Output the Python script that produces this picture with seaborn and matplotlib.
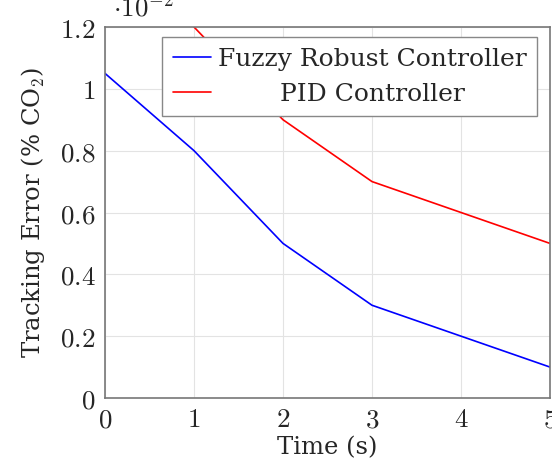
import pandas as pd
import seaborn as sns
import matplotlib.pyplot as plt
from matplotlib.ticker import FuncFormatter

# Values (y in units of 1e-2)
time_fuzzy = [0, 1, 2, 3, 4, 5]
err_fuzzy = [1.05, 0.80, 0.50, 0.30, 0.20, 0.10]
time_pid = [1, 2, 3, 4, 5]
err_pid = [1.20, 0.90, 0.70, 0.60, 0.50]
series_names = ["Fuzzy Robust Controller", "PID Controller"]

df = pd.concat([
    pd.DataFrame({"time": time_fuzzy, "err": err_fuzzy, "controller": series_names[0]}),
    pd.DataFrame({"time": time_pid, "err": err_pid, "controller": series_names[1]}),
], ignore_index=True)

sns.set_theme(style="whitegrid")
plt.rcParams["font.family"] = ["DejaVu Serif"]
plt.rcParams["mathtext.fontset"] = "cm"

fig = plt.figure(figsize=(5.52, 4.66), dpi=100)
ax = fig.add_axes([105 / 552, 68 / 466, 445 / 552, 371 / 466])

sns.lineplot(
    data=df, x="time", y="err", hue="controller",
    palette={series_names[0]: "#0000ff", series_names[1]: "#ff0000"},
    linewidth=1.2, ax=ax,
)

ax.set_xlim(0, 5)
ax.set_ylim(0, 1.2)
ax.set_xticks([0, 1, 2, 3, 4, 5])
ax.set_yticks([0, 0.2, 0.4, 0.6, 0.8, 1.0, 1.2])
fmt = FuncFormatter(lambda v, p: f"${v:g}$")
ax.xaxis.set_major_formatter(fmt)
ax.yaxis.set_major_formatter(fmt)
ax.tick_params(axis="both", labelsize=19.5, direction="in", length=3,
               color="#888888", width=0.8, pad=7)
ax.tick_params(axis="x", pad=6)

ax.grid(True, color="#e3e3e3", linewidth=0.8)
for s in ax.spines.values():
    s.set_color("#777777")
    s.set_linewidth(1.2)
ax.set_facecolor("white")

ax.set_xlabel("Time (s)", fontsize=17.5, labelpad=2)
ax.set_ylabel("Tracking Error (% CO$_2$)", fontsize=17.5, labelpad=9)

leg = ax.legend(
    loc="upper right", bbox_to_anchor=(0.971, 0.972), borderaxespad=0,
    fontsize=18, frameon=True, fancybox=False, framealpha=1,
    edgecolor="#888888", handlelength=1.52, handletextpad=0.28,
    labelspacing=0.46, borderpad=0.43,
)
leg.get_frame().set_linewidth(1.0)
for line in leg.get_lines():
    line.set_linewidth(1.2)

# center the shorter label like the reference legend
fig.canvas.draw()
texts = leg.get_texts()
widths = [t.get_window_extent().width for t in texts]
texts[1].set_position(((widths[0] - widths[1]) / 2, 0))

fig.text(113 / 552, 1 - 16 / 466, r"$\cdot 10^{-2}$", fontsize=19.5, va="baseline")

plt.savefig("out.png", dpi=100)
